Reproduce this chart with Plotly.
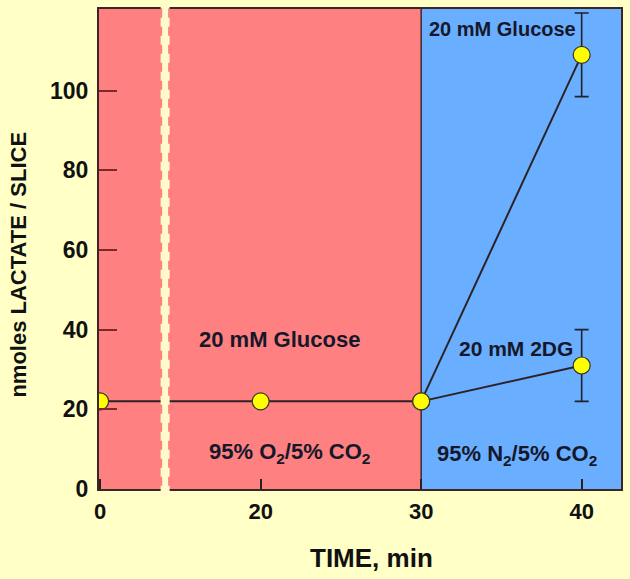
import plotly.graph_objects as go

# ---- data ----
time_glucose = [0, 20, 30, 40]
lactate_glucose = [22, 22, 22, 109]
err_glucose = [1, 1, 0, 10.5]

time_2dg = [30, 40]
lactate_2dg = [22, 31]
err_2dg = [0, 9]

x_tick_vals = [0, 20, 30, 40]
y_tick_vals = [0, 20, 40, 60, 80, 100]

# broken time axis: 0..~4 min shown, then jump to ~14 min
BREAK_GAP = 10
BREAK_AT = 4.05


def disp(t):
    return t if t < 10 else t - BREAK_GAP


X_RANGE = [-0.07, 32.45]
Y_RANGE = [0, 120.5]

BG = "#FFFFC6"
RED = "#FF8080"
BLUE = "#6AAEFF"
CREAM = "#FFF9CC"
FONT = "Liberation Sans, Arial, sans-serif"

fig = go.Figure()

fig.add_trace(go.Scatter(
    x=[disp(t) for t in time_glucose], y=lactate_glucose,
    mode="lines+markers",
    line=dict(color="#2e2226", width=2),
    marker=dict(size=17, color="#FFFF00", line=dict(color="#333333", width=1.2)),
    error_y=dict(type="data", array=err_glucose, visible=True,
                 color="#222222", thickness=1.6, width=7),
    showlegend=False,
))
fig.add_trace(go.Scatter(
    x=[disp(t) for t in time_2dg], y=lactate_2dg,
    mode="lines+markers",
    line=dict(color="#2e2226", width=2),
    marker=dict(size=17, color="#FFFF00", line=dict(color="#333333", width=1.2)),
    error_y=dict(type="data", array=err_2dg, visible=True,
                 color="#222222", thickness=1.6, width=7),
    showlegend=False,
))

shapes = [
    dict(type="rect", xref="x", yref="y", x0=X_RANGE[0], x1=disp(30),
         y0=Y_RANGE[0], y1=Y_RANGE[1], fillcolor=RED, line=dict(width=0), layer="below"),
    dict(type="rect", xref="x", yref="y", x0=disp(30), x1=X_RANGE[1],
         y0=Y_RANGE[0], y1=Y_RANGE[1], fillcolor=BLUE, line=dict(width=0), layer="below"),
    dict(type="line", xref="x", yref="y", x0=disp(30), x1=disp(30),
         y0=Y_RANGE[0], y1=Y_RANGE[1], line=dict(color="#3a2a30", width=1.5), layer="below"),
]
bx = (BREAK_AT - X_RANGE[0]) / (X_RANGE[1] - X_RANGE[0])
shapes += [
    dict(type="line", xref="paper", yref="paper", x0=bx, x1=bx, y0=-0.012, y1=1.012,
         line=dict(color=CREAM, width=6), layer="above"),
    dict(type="line", xref="paper", yref="paper", x0=bx, x1=bx, y0=-0.012, y1=1.012,
         line=dict(color=CREAM, width=9, dash="dot"), layer="above"),
]

TXT = "#15182a"
ann = [
    dict(x=disp(35.05), y=115.5, text="20 mM Glucose", font=dict(size=20)),
    dict(x=disp(21.2), y=37.5, text="20 mM Glucose", font=dict(size=22)),
    dict(x=disp(21.8), y=9, text="95% O<sub>2</sub>/5% CO<sub>2</sub>", font=dict(size=22)),
    dict(x=disp(35.9), y=35.3, text="20 mM 2DG", font=dict(size=21)),
    dict(x=disp(36.0), y=8.6, text="95% N<sub>2</sub>/5% CO<sub>2</sub>", font=dict(size=22)),
]
annotations = []
for a in ann:
    a.update(xref="x", yref="y", showarrow=False, xanchor="center", yanchor="middle")
    a["font"].update(family=FONT, color=TXT, weight="bold")
    annotations.append(a)

annotations += [
    dict(xref="paper", yref="paper", x=(18.5 - 99) / 523, y=(489 - 264) / 482,
         text="nmoles LACTATE / SLICE", textangle=-90, showarrow=False,
         xanchor="center", yanchor="middle",
         font=dict(family=FONT, size=22, color="#111111", weight="bold")),
    dict(xref="paper", yref="paper", x=(372 - 99) / 523, y=(489 - 558) / 482,
         text="TIME, min", showarrow=False, xanchor="center", yanchor="middle",
         font=dict(family=FONT, size=26, color="#111111", weight="bold")),
]

fig.update_layout(
    width=630, height=579,
    margin=dict(l=99, r=8, t=7, b=90),
    paper_bgcolor=BG, plot_bgcolor=BG,
    shapes=shapes, annotations=annotations,
    xaxis=dict(
        range=X_RANGE, tickmode="array",
        tickvals=[disp(t) for t in x_tick_vals], ticktext=[str(t) for t in x_tick_vals],
        ticks="inside", ticklen=10, tickwidth=1.5, tickcolor="#2a2020",
        showgrid=False, zeroline=False,
        showline=True, linecolor="#3a2626", linewidth=2, mirror=True,
        tickfont=dict(family=FONT, size=22, color="#111111", weight="bold"),
        ticklabelstandoff=2,
    ),
    yaxis=dict(
        range=Y_RANGE, tickmode="array", tickvals=y_tick_vals,
        ticktext=[str(v) for v in y_tick_vals],
        ticks="inside", ticklen=18, tickwidth=2, tickcolor="#7a2a2a",
        showgrid=False, zeroline=False,
        showline=True, linecolor="#3a2626", linewidth=2, mirror=True,
        tickfont=dict(family=FONT, size=23, color="#111111", weight="bold"),
        ticklabelstandoff=4,
    ),
)

fig.write_html(
    "out.html",
    config={"displayModeBar": False},
    post_script="document.body.style.margin='0';document.body.style.background='" + BG + "';",
)
